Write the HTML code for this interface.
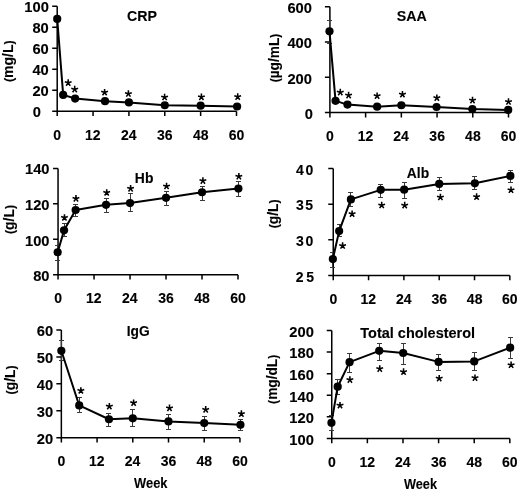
<!DOCTYPE html>
<html><head><meta charset="utf-8"><style>
html,body{margin:0;padding:0;background:#fff;}
svg{display:block;filter:grayscale(1);}
text{font-family:"Liberation Sans",sans-serif;font-weight:bold;font-size:14px;fill:#000;stroke:#000;stroke-width:0.12px;}
</style></head><body>
<svg width="520" height="490" viewBox="0 0 520 490">
<rect width="520" height="490" fill="#fff"/>
<path d="M57.2 6.15V111.2H236.5" fill="none" stroke="#000" stroke-width="1.5"/>
<path d="M52.2 111.2H57.2M52.2 90.19H57.2M52.2 69.18H57.2M52.2 48.17H57.2M52.2 27.16H57.2M52.2 6.15H57.2M57.2 111.2V116M93.06 111.2V116M128.92 111.2V116M164.78 111.2V116M200.64 111.2V116M236.5 111.2V116" stroke="#000" stroke-width="1.5"/>
<text x="32.72" y="116.5" textLength="8.18" lengthAdjust="spacingAndGlyphs">0</text>
<text x="32.45" y="96.49" textLength="16.35" lengthAdjust="spacingAndGlyphs">20</text>
<text x="32.45" y="75.48" textLength="16.35" lengthAdjust="spacingAndGlyphs">40</text>
<text x="32.45" y="54.47" textLength="16.35" lengthAdjust="spacingAndGlyphs">60</text>
<text x="32.45" y="33.46" textLength="16.35" lengthAdjust="spacingAndGlyphs">80</text>
<text x="24.31" y="12.45" textLength="24.53" lengthAdjust="spacingAndGlyphs">100</text>
<text x="53.33" y="139.6">0</text>
<text x="85.09" y="139.6">12</text>
<text x="120.92" y="139.6">24</text>
<text x="157.08" y="139.6">36</text>
<text x="192.97" y="139.6">48</text>
<text x="228.75" y="139.6">60</text>
<text x="126.94" y="20.5" textLength="29.97" lengthAdjust="spacingAndGlyphs">CRP</text>
<text x="-20.91" y="0" transform="translate(12.7 61.15) rotate(-90)" font-size="13.5" textLength="41.81" lengthAdjust="spacingAndGlyphs"><tspan font-size="12.5">(</tspan>mg/L<tspan font-size="12.5">)</tspan></text>
<polyline points="57.2,18.9 63.18,94.9 75.13,98.55 105.01,101.2 128.92,102.45 164.78,105.25 200.64,105.65 237.1,106.5" fill="none" stroke="#000" stroke-width="2.0" stroke-linejoin="round"/>
<circle cx="57.2" cy="18.9" r="4.1"/>
<circle cx="63.18" cy="94.9" r="4.1"/>
<circle cx="75.13" cy="98.55" r="4.1"/>
<circle cx="105.01" cy="101.2" r="4.1"/>
<circle cx="128.92" cy="102.45" r="4.1"/>
<circle cx="164.78" cy="105.25" r="4.1"/>
<circle cx="200.64" cy="105.65" r="4.1"/>
<circle cx="237.1" cy="106.5" r="4.1"/>
<path d="M329.9 6.85V112.6H508.5" fill="none" stroke="#000" stroke-width="1.5"/>
<path d="M324.9 112.6H329.9M324.9 77.35H329.9M324.9 42.1H329.9M324.9 6.85H329.9M329.9 112.6V117.4M365.62 112.6V117.4M401.34 112.6V117.4M437.06 112.6V117.4M472.78 112.6V117.4M508.5 112.6V117.4" stroke="#000" stroke-width="1.5"/>
<text x="304.82" y="118.9" textLength="8.18" lengthAdjust="spacingAndGlyphs">0</text>
<text x="287.41" y="83.65" textLength="24.53" lengthAdjust="spacingAndGlyphs">200</text>
<text x="287.41" y="48.4" textLength="24.53" lengthAdjust="spacingAndGlyphs">400</text>
<text x="287.41" y="13.15" textLength="24.53" lengthAdjust="spacingAndGlyphs">600</text>
<text x="326.02" y="140.9">0</text>
<text x="357.64" y="140.9">12</text>
<text x="393.34" y="140.9">24</text>
<text x="429.36" y="140.9">36</text>
<text x="465.1" y="140.9">48</text>
<text x="500.75" y="140.9">60</text>
<text x="396.79" y="20.5" textLength="29.97" lengthAdjust="spacingAndGlyphs">SAA</text>
<text x="-24.35" y="0" transform="translate(278.8 58) rotate(-90)" font-size="13.5" textLength="48.71" lengthAdjust="spacingAndGlyphs"><tspan font-size="12.5">(</tspan>µg/mL<tspan font-size="12.5">)</tspan></text>
<path d="M329.5 20.5V31.35M327 20.5H332M329.5 31.35V43.5M327 43.5H332" fill="none" stroke="#3a3a3a" stroke-width="1.0"/>
<polyline points="329.5,31.35 335.55,100.85 347.46,104.6 377.13,106.65 401.34,105.25 436.56,107 472.38,109.1 508.2,109.9" fill="none" stroke="#000" stroke-width="2.0" stroke-linejoin="round"/>
<circle cx="329.5" cy="31.35" r="4.1"/>
<circle cx="335.55" cy="100.85" r="4.1"/>
<circle cx="347.46" cy="104.6" r="4.1"/>
<circle cx="377.13" cy="106.65" r="4.1"/>
<circle cx="401.34" cy="105.25" r="4.1"/>
<circle cx="436.56" cy="107" r="4.1"/>
<circle cx="472.38" cy="109.1" r="4.1"/>
<circle cx="508.2" cy="109.9" r="4.1"/>
<path d="M58.05 168.46V274.7H238" fill="none" stroke="#000" stroke-width="1.5"/>
<path d="M53.05 274.7H58.05M53.05 239.29H58.05M53.05 203.87H58.05M53.05 168.46H58.05M58.05 274.7V279.5M94.04 274.7V279.5M130.03 274.7V279.5M166.02 274.7V279.5M202.01 274.7V279.5M238 274.7V279.5" stroke="#000" stroke-width="1.5"/>
<text x="33.15" y="281" textLength="16.35" lengthAdjust="spacingAndGlyphs">80</text>
<text x="25.01" y="245.59" textLength="24.53" lengthAdjust="spacingAndGlyphs">100</text>
<text x="25.01" y="210.17" textLength="24.53" lengthAdjust="spacingAndGlyphs">120</text>
<text x="25.01" y="173.96" textLength="24.53" lengthAdjust="spacingAndGlyphs">140</text>
<text x="54.17" y="303.2">0</text>
<text x="86.06" y="303.2">12</text>
<text x="122.03" y="303.2">24</text>
<text x="158.32" y="303.2">36</text>
<text x="194.33" y="303.2">48</text>
<text x="230.25" y="303.2">60</text>
<text x="134.86" y="182.85" textLength="18.5" lengthAdjust="spacingAndGlyphs">Hb</text>
<text x="-14.55" y="0" transform="translate(14.2 219.5) rotate(-90)" font-size="13.5" textLength="29.08" lengthAdjust="spacingAndGlyphs"><tspan font-size="12.5">(</tspan>g/L<tspan font-size="12.5">)</tspan></text>
<path d="M57.5 245.5V252.25M55 245.5H60M57.5 252.25V260.5M55 260.5H60M64.5 223.5V230.35M62 223.5H67M64.5 230.35V236.5M62 236.5H67M75.5 204.5V210M73 204.5H78M75.5 210V216.5M73 216.5H78M106.5 198.5V204.85M104 198.5H109M106.5 204.85V212.5M104 212.5H109M130.5 193.5V203.05M128 193.5H133M130.5 203.05V211.5M128 211.5H133M166.5 191.5V197.85M164 191.5H169M166.5 197.85V205.5M164 205.5H169M202.5 186.5V192.25M200 186.5H205M202.5 192.25V200.5M200 200.5H205M238.5 181.5V188.6M236 181.5H241M238.5 188.6V196.5M236 196.5H241" fill="none" stroke="#3a3a3a" stroke-width="1.0"/>
<polyline points="57.65,252.25 64.05,230.35 75.64,210 106.04,204.85 130.03,203.05 166.02,197.85 202.01,192.25 238.4,188.6" fill="none" stroke="#000" stroke-width="2.0" stroke-linejoin="round"/>
<circle cx="57.65" cy="252.25" r="4.1"/>
<circle cx="64.05" cy="230.35" r="4.1"/>
<circle cx="75.64" cy="210" r="4.1"/>
<circle cx="106.04" cy="204.85" r="4.1"/>
<circle cx="130.03" cy="203.05" r="4.1"/>
<circle cx="166.02" cy="197.85" r="4.1"/>
<circle cx="202.01" cy="192.25" r="4.1"/>
<circle cx="238.4" cy="188.6" r="4.1"/>
<path d="M333.25 168.46V275.5H509.84" fill="none" stroke="#000" stroke-width="1.5"/>
<path d="M328.25 275.5H333.25M328.25 239.82H333.25M328.25 204.14H333.25M328.25 168.46H333.25M333.25 275.5V280.3M368.57 275.5V280.3M403.89 275.5V280.3M439.2 275.5V280.3M474.52 275.5V280.3M509.84 275.5V280.3" stroke="#000" stroke-width="1.5"/>
<text x="295.8" y="281.8">2</text>
<text x="306.35" y="281.8">5</text>
<text x="296" y="246.12">3</text>
<text x="305.45" y="246.12">0</text>
<text x="296" y="210.44">3</text>
<text x="305.35" y="210.44">5</text>
<text x="296" y="174.76">4</text>
<text x="305.45" y="174.76">0</text>
<text x="329.38" y="303.9">0</text>
<text x="360.59" y="303.9">12</text>
<text x="395.89" y="303.9">24</text>
<text x="431.5" y="303.9">36</text>
<text x="466.85" y="303.9">48</text>
<text x="502.09" y="303.9">60</text>
<text x="406.85" y="177.85" textLength="22.29" lengthAdjust="spacingAndGlyphs">Alb</text>
<text x="-14.55" y="0" transform="translate(278.2 213.8) rotate(-90)" font-size="13.5" textLength="29.08" lengthAdjust="spacingAndGlyphs"><tspan font-size="12.5">(</tspan>g/L<tspan font-size="12.5">)</tspan></text>
<path d="M332.5 252.5V259.05M330 252.5H335M332.5 259.05V267.5M330 267.5H335M339.5 224.5V231.1M337 224.5H342M339.5 231.1V236.5M337 236.5H342M350.5 192.5V199.4M348 192.5H353M350.5 199.4V206.5M348 206.5H353M380.5 184.5V189.85M378 184.5H383M380.5 189.85V197.5M378 197.5H383M404.5 182.5V189.7M402 182.5H407M404.5 189.7V198.5M402 198.5H407M439.5 177.5V183.9M437 177.5H442M439.5 183.9V190.5M437 190.5H442M474.5 176.5V183.3M472 176.5H477M474.5 183.3V189.5M472 189.5H477M510.5 170.5V175.9M508 170.5H513M510.5 175.9V182.5M508 182.5H513" fill="none" stroke="#3a3a3a" stroke-width="1.0"/>
<polyline points="332.85,259.05 339.14,231.1 350.91,199.4 380.74,189.85 404.19,189.7 439.2,183.9 474.87,183.3 510.34,175.9" fill="none" stroke="#000" stroke-width="2.0" stroke-linejoin="round"/>
<circle cx="332.85" cy="259.05" r="4.1"/>
<circle cx="339.14" cy="231.1" r="4.1"/>
<circle cx="350.91" cy="199.4" r="4.1"/>
<circle cx="380.74" cy="189.85" r="4.1"/>
<circle cx="404.19" cy="189.7" r="4.1"/>
<circle cx="439.2" cy="183.9" r="4.1"/>
<circle cx="474.87" cy="183.3" r="4.1"/>
<circle cx="510.34" cy="175.9" r="4.1"/>
<path d="M61.35 329.9V437.8H239.94" fill="none" stroke="#000" stroke-width="1.5"/>
<path d="M56.35 437.8H61.35M56.35 410.82H61.35M56.35 383.85H61.35M56.35 356.88H61.35M56.35 329.9H61.35M61.35 437.8V442.6M97.07 437.8V442.6M132.79 437.8V442.6M168.5 437.8V442.6M204.22 437.8V442.6M239.94 437.8V442.6" stroke="#000" stroke-width="1.5"/>
<text x="36.85" y="444.1" textLength="16.35" lengthAdjust="spacingAndGlyphs">20</text>
<text x="36.85" y="417.12" textLength="16.35" lengthAdjust="spacingAndGlyphs">30</text>
<text x="36.85" y="390.15" textLength="16.35" lengthAdjust="spacingAndGlyphs">40</text>
<text x="36.85" y="363.18" textLength="16.35" lengthAdjust="spacingAndGlyphs">50</text>
<text x="36.85" y="336.2" textLength="16.35" lengthAdjust="spacingAndGlyphs">60</text>
<text x="57.48" y="465.7">0</text>
<text x="89.09" y="465.7">12</text>
<text x="124.79" y="465.7">24</text>
<text x="160.8" y="465.7">36</text>
<text x="196.55" y="465.7">48</text>
<text x="232.19" y="465.7">60</text>
<text x="126.67" y="335.6" textLength="22.95" lengthAdjust="spacingAndGlyphs">IgG</text>
<text x="-14.55" y="0" transform="translate(14.8 379.9) rotate(-90)" font-size="13.5" textLength="29.08" lengthAdjust="spacingAndGlyphs"><tspan font-size="12.5">(</tspan>g/L<tspan font-size="12.5">)</tspan></text>
<path d="M61.5 340.5V350.8M59 340.5H64M61.5 350.8V360.5M59 360.5H64M79.5 397.5V405.45M77 397.5H82M79.5 405.45V412.5M77 412.5H82M108.5 413.5V419.25M106 413.5H111M108.5 419.25V426.5M106 426.5H111M132.5 409.5V418.3M130 409.5H135M132.5 418.3V426.5M130 426.5H135M168.5 414.5V421.4M166 414.5H171M168.5 421.4V429.5M166 429.5H171M204.5 416.5V423.1M202 416.5H207M204.5 423.1V430.5M202 430.5H207M240.5 419.5V424.8M238 419.5H243M240.5 424.8V430.5M238 430.5H243" fill="none" stroke="#3a3a3a" stroke-width="1.0"/>
<polyline points="61.35,350.8 79.21,405.45 108.97,419.25 132.79,418.3 168.5,421.4 204.22,423.1 240.44,424.8" fill="none" stroke="#000" stroke-width="2.0" stroke-linejoin="round"/>
<circle cx="61.35" cy="350.8" r="4.1"/>
<circle cx="79.21" cy="405.45" r="4.1"/>
<circle cx="108.97" cy="419.25" r="4.1"/>
<circle cx="132.79" cy="418.3" r="4.1"/>
<circle cx="168.5" cy="421.4" r="4.1"/>
<circle cx="204.22" cy="423.1" r="4.1"/>
<circle cx="240.44" cy="424.8" r="4.1"/>
<path d="M331.75 330.5V438.45H509.84" fill="none" stroke="#000" stroke-width="1.5"/>
<path d="M326.75 438.45H331.75M326.75 416.86H331.75M326.75 395.27H331.75M326.75 373.68H331.75M326.75 352.09H331.75M326.75 330.5H331.75M331.75 438.45V443.25M367.37 438.45V443.25M402.99 438.45V443.25M438.6 438.45V443.25M474.22 438.45V443.25M509.84 438.45V443.25" stroke="#000" stroke-width="1.5"/>
<text x="289.31" y="444.75" textLength="24.53" lengthAdjust="spacingAndGlyphs">100</text>
<text x="289.31" y="423.16" textLength="24.53" lengthAdjust="spacingAndGlyphs">120</text>
<text x="289.31" y="401.57" textLength="24.53" lengthAdjust="spacingAndGlyphs">140</text>
<text x="289.31" y="379.98" textLength="24.53" lengthAdjust="spacingAndGlyphs">160</text>
<text x="289.31" y="358.39" textLength="24.53" lengthAdjust="spacingAndGlyphs">180</text>
<text x="289.31" y="336.8" textLength="24.53" lengthAdjust="spacingAndGlyphs">200</text>
<text x="327.88" y="466.9">0</text>
<text x="359.39" y="466.9">12</text>
<text x="394.99" y="466.9">24</text>
<text x="430.9" y="466.9">36</text>
<text x="466.55" y="466.9">48</text>
<text x="502.09" y="466.9">60</text>
<text x="360.34" y="337.5" textLength="114.77" lengthAdjust="spacingAndGlyphs" xml:space="preserve">Total cholesterol</text>
<text x="-24.65" y="0" transform="translate(277.4 379.3) rotate(-90)" font-size="13.5" textLength="49.28" lengthAdjust="spacingAndGlyphs"><tspan font-size="12.5">(</tspan>mg/dL<tspan font-size="12.5">)</tspan></text>
<path d="M331.5 415.5V422.85M329 415.5H334M331.5 422.85V430.5M329 430.5H334M337.5 379.5V386.7M335 379.5H340M337.5 386.7V394.5M335 394.5H340M349.5 353.5V362.15M347 353.5H352M349.5 362.15V372.5M347 372.5H352M379.5 343.5V350.85M377 343.5H382M379.5 350.85V360.5M377 360.5H382M403.5 343.5V353M401 343.5H406M403.5 353V364.5M401 364.5H406M438.5 354.5V361.9M436 354.5H441M438.5 361.9V370.5M436 370.5H441M474.5 352.5V361.4M472 352.5H477M474.5 361.4V370.5M472 370.5H477M510.5 337.5V347.7M508 337.5H513M510.5 347.7V358.5M508 358.5H513" fill="none" stroke="#3a3a3a" stroke-width="1.0"/>
<polyline points="331.45,422.85 337.69,386.7 349.56,362.15 379.24,350.85 403.19,353 438.6,361.9 474.22,361.4 510.14,347.7" fill="none" stroke="#000" stroke-width="2.0" stroke-linejoin="round"/>
<circle cx="331.45" cy="422.85" r="4.1"/>
<circle cx="337.69" cy="386.7" r="4.1"/>
<circle cx="349.56" cy="362.15" r="4.1"/>
<circle cx="379.24" cy="350.85" r="4.1"/>
<circle cx="403.19" cy="353" r="4.1"/>
<circle cx="438.6" cy="361.9" r="4.1"/>
<circle cx="474.22" cy="361.4" r="4.1"/>
<circle cx="510.14" cy="347.7" r="4.1"/>
<path d="M68.2 82.84L68.2 79.29M68.2 82.84L71.58 81.74M68.2 82.84L70.29 85.71M68.2 82.84L66.11 85.71M68.2 82.84L64.82 81.74M74.7 89.39L74.7 85.84M74.7 89.39L78.08 88.29M74.7 89.39L76.79 92.26M74.7 89.39L72.61 92.26M74.7 89.39L71.32 88.29M104.6 92.44L104.6 88.89M104.6 92.44L107.98 91.34M104.6 92.44L106.69 95.31M104.6 92.44L102.51 95.31M104.6 92.44L101.22 91.34M128.4 93.74L128.4 90.19M128.4 93.74L131.78 92.64M128.4 93.74L130.49 96.61M128.4 93.74L126.31 96.61M128.4 93.74L125.02 92.64M164.6 97.24L164.6 93.69M164.6 97.24L167.98 96.14M164.6 97.24L166.69 100.11M164.6 97.24L162.51 100.11M164.6 97.24L161.22 96.14M201.4 97.09L201.4 93.54M201.4 97.09L204.78 95.99M201.4 97.09L203.49 99.96M201.4 97.09L199.31 99.96M201.4 97.09L198.02 95.99M237.7 96.84L237.7 93.29M237.7 96.84L241.08 95.74M237.7 96.84L239.79 99.71M237.7 96.84L235.61 99.71M237.7 96.84L234.32 95.74M340.3 92.39L340.3 88.84M340.3 92.39L343.68 91.29M340.3 92.39L342.39 95.26M340.3 92.39L338.21 95.26M340.3 92.39L336.92 91.29M348.6 95.34L348.6 91.79M348.6 95.34L351.98 94.24M348.6 95.34L350.69 98.21M348.6 95.34L346.51 98.21M348.6 95.34L345.22 94.24M377.1 95.94L377.1 92.39M377.1 95.94L380.48 94.84M377.1 95.94L379.19 98.81M377.1 95.94L375.01 98.81M377.1 95.94L373.72 94.84M402.45 94.44L402.45 90.89M402.45 94.44L405.83 93.34M402.45 94.44L404.54 97.31M402.45 94.44L400.36 97.31M402.45 94.44L399.07 93.34M436.85 97.94L436.85 94.39M436.85 97.94L440.23 96.84M436.85 97.94L438.94 100.81M436.85 97.94L434.76 100.81M436.85 97.94L433.47 96.84M472.5 100.34L472.5 96.79M472.5 100.34L475.88 99.24M472.5 100.34L474.59 103.21M472.5 100.34L470.41 103.21M472.5 100.34L469.12 99.24M508.5 101.74L508.5 98.19M508.5 101.74L511.88 100.64M508.5 101.74L510.59 104.61M508.5 101.74L506.41 104.61M508.5 101.74L505.12 100.64M64.45 217.69L64.45 214.14M64.45 217.69L67.83 216.59M64.45 217.69L66.54 220.56M64.45 217.69L62.36 220.56M64.45 217.69L61.07 216.59M75.95 198.64L75.95 195.09M75.95 198.64L79.33 197.54M75.95 198.64L78.04 201.51M75.95 198.64L73.86 201.51M75.95 198.64L72.57 197.54M106.7 192.69L106.7 189.14M106.7 192.69L110.08 191.59M106.7 192.69L108.79 195.56M106.7 192.69L104.61 195.56M106.7 192.69L103.32 191.59M130.6 188.59L130.6 185.04M130.6 188.59L133.98 187.49M130.6 188.59L132.69 191.46M130.6 188.59L128.51 191.46M130.6 188.59L127.22 187.49M166.55 186.24L166.55 182.69M166.55 186.24L169.93 185.14M166.55 186.24L168.64 189.11M166.55 186.24L164.46 189.11M166.55 186.24L163.17 185.14M202.9 180.84L202.9 177.29M202.9 180.84L206.28 179.74M202.9 180.84L204.99 183.71M202.9 180.84L200.81 183.71M202.9 180.84L199.52 179.74M238.85 176.54L238.85 172.99M238.85 176.54L242.23 175.44M238.85 176.54L240.94 179.41M238.85 176.54L236.76 179.41M238.85 176.54L235.47 175.44M342.6 245.74L342.6 242.19M342.6 245.74L345.98 244.64M342.6 245.74L344.69 248.61M342.6 245.74L340.51 248.61M342.6 245.74L339.22 244.64M352.1 213.94L352.1 210.39M352.1 213.94L355.48 212.84M352.1 213.94L354.19 216.81M352.1 213.94L350.01 216.81M352.1 213.94L348.72 212.84M381.7 205.24L381.7 201.69M381.7 205.24L385.08 204.14M381.7 205.24L383.79 208.11M381.7 205.24L379.61 208.11M381.7 205.24L378.32 204.14M404.7 205.39L404.7 201.84M404.7 205.39L408.08 204.29M404.7 205.39L406.79 208.26M404.7 205.39L402.61 208.26M404.7 205.39L401.32 204.29M440.4 197.24L440.4 193.69M440.4 197.24L443.78 196.14M440.4 197.24L442.49 200.11M440.4 197.24L438.31 200.11M440.4 197.24L437.02 196.14M476.6 196.84L476.6 193.29M476.6 196.84L479.98 195.74M476.6 196.84L478.69 199.71M476.6 196.84L474.51 199.71M476.6 196.84L473.22 195.74M511 190.04L511 186.49M511 190.04L514.38 188.94M511 190.04L513.09 192.91M511 190.04L508.91 192.91M511 190.04L507.62 188.94M80.85 390.69L80.85 387.14M80.85 390.69L84.23 389.59M80.85 390.69L82.94 393.56M80.85 390.69L78.76 393.56M80.85 390.69L77.47 389.59M109.35 406.44L109.35 402.89M109.35 406.44L112.73 405.34M109.35 406.44L111.44 409.31M109.35 406.44L107.26 409.31M109.35 406.44L105.97 405.34M133.6 402.94L133.6 399.39M133.6 402.94L136.98 401.84M133.6 402.94L135.69 405.81M133.6 402.94L131.51 405.81M133.6 402.94L130.22 401.84M169.5 408.14L169.5 404.59M169.5 408.14L172.88 407.04M169.5 408.14L171.59 411.01M169.5 408.14L167.41 411.01M169.5 408.14L166.12 407.04M205.7 409.64L205.7 406.09M205.7 409.64L209.08 408.54M205.7 409.64L207.79 412.51M205.7 409.64L203.61 412.51M205.7 409.64L202.32 408.54M241.4 413.84L241.4 410.29M241.4 413.84L244.78 412.74M241.4 413.84L243.49 416.71M241.4 413.84L239.31 416.71M241.4 413.84L238.02 412.74M340 405.44L340 401.89M340 405.44L343.38 404.34M340 405.44L342.09 408.31M340 405.44L337.91 408.31M340 405.44L336.62 404.34M349.9 379.84L349.9 376.29M349.9 379.84L353.28 378.74M349.9 379.84L351.99 382.71M349.9 379.84L347.81 382.71M349.9 379.84L346.52 378.74M379.75 368.84L379.75 365.29M379.75 368.84L383.13 367.74M379.75 368.84L381.84 371.71M379.75 368.84L377.66 371.71M379.75 368.84L376.37 367.74M403.55 371.89L403.55 368.34M403.55 371.89L406.93 370.79M403.55 371.89L405.64 374.76M403.55 371.89L401.46 374.76M403.55 371.89L400.17 370.79M439.2 378.44L439.2 374.89M439.2 378.44L442.58 377.34M439.2 378.44L441.29 381.31M439.2 378.44L437.11 381.31M439.2 378.44L435.82 377.34M475 377.94L475 374.39M475 377.94L478.38 376.84M475 377.94L477.09 380.81M475 377.94L472.91 380.81M475 377.94L471.62 376.84M511.1 365.04L511.1 361.49M511.1 365.04L514.48 363.94M511.1 365.04L513.19 367.91M511.1 365.04L509.01 367.91M511.1 365.04L507.72 363.94" stroke="#000" stroke-width="1.55" fill="none"/>
<text x="134.1" y="488" font-size="13.2" textLength="33.39" lengthAdjust="spacingAndGlyphs">Week</text>
<text x="404" y="488.65" font-size="13.2" textLength="32.99" lengthAdjust="spacingAndGlyphs">Week</text>
</svg>
</body></html>
